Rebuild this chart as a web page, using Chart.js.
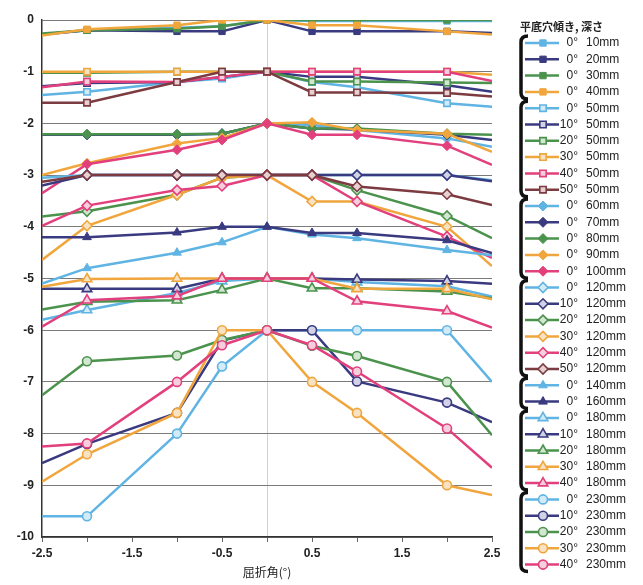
<!DOCTYPE html>
<html>
<head>
<meta charset="utf-8">
<script src="https://cdn.jsdelivr.net/npm/chart.js@4.4.1/dist/chart.umd.min.js"></script>
<style>
  html, body { margin: 0; padding: 0; background: #fff; }
  #wrap { width: 643px; height: 585px; position: relative; }
</style>
</head>
<body>
<div id="wrap"><canvas id="chart" width="643" height="585"></canvas></div>
<script>
// Refraction angle (x) and the measured values for every series
const X_VALUES = [-2.5, -2, -1, -0.5, 0, 0.5, 1, 2, 2.5];
const X_TICK_LABELS = [-2.5, -1.5, -0.5, 0.5, 1.5, 2.5];
const X_TITLE = '屈折角(°)';
const LEGEND_TITLE = '平底穴傾き, 深さ';

// legend text: tilt angle + depth
const ANGLES = [
    '0°', '0°', '0°', '0°',
    '0°', '10°', '20°', '30°', '40°', '50°',
    '0°', '0°', '0°', '0°', '0°',
    '0°', '10°', '20°', '30°', '40°', '50°',
    '0°', '0°',
    '0°', '10°', '20°', '30°', '40°',
    '0°', '10°', '20°', '30°', '40°'
];
const DEPTHS = [
    '10mm', '20mm', '30mm', '40mm',
    '50mm', '50mm', '50mm', '50mm', '50mm', '50mm',
    '60mm', '70mm', '80mm', '90mm', '100mm',
    '120mm', '120mm', '120mm', '120mm', '120mm', '120mm',
    '140mm', '160mm',
    '180mm', '180mm', '180mm', '180mm', '180mm',
    '230mm', '230mm', '230mm', '230mm', '230mm'
];
// how many series per bracket in the legend
const GROUP_SIZES = [4, 6, 5, 6, 2, 5, 5];

// 0°, 10-40mm (filled squares)
const d10 = [-0.28, -0.2, -0.15, -0.12, 0, -0.02, -0.02, -0.02, -0.02];
const d20 = [-0.28, -0.2, -0.22, -0.22, 0, -0.22, -0.22, -0.22, -0.25];
const d30 = [-0.26, -0.2, -0.17, -0.12, 0, 0, 0, 0, 0];
const d40 = [-0.3, -0.18, -0.1, 0, 0, -0.1, -0.1, -0.22, -0.28];
// 50mm (open squares)
const t0_50 = [-1.45, -1.39, -1.2, -1.13, -1.0, -1.2, -1.3, -1.61, -1.68];
const t10_50 = [-1.28, -1.22, -1.2, -1.1, -1.0, -1.1, -1.1, -1.26, -1.39];
const t20_50 = [-1.02, -1.02, -1.0, -1.0, -1.0, -1.19, -1.19, -1.21, -1.22];
const t30_50 = [-1.0, -1.0, -1.0, -1.0, -1.0, -1.0, -1.0, -1.0, -1.06];
const t40_50 = [-1.3, -1.19, -1.2, -1.1, -1.0, -1.0, -1.0, -1.0, -1.18];
const t50_50 = [-1.6, -1.6, -1.2, -1.0, -1.0, -1.4, -1.4, -1.41, -1.48];
// 0°, 60-100mm (filled diamonds)
const d60 = [-2.22, -2.22, -2.22, -2.2, -2.0, -2.03, -2.13, -2.29, -2.45];
const d70 = [-2.22, -2.22, -2.22, -2.2, -2.0, -2.1, -2.12, -2.22, -2.32];
const d80 = [-2.21, -2.21, -2.21, -2.2, -2.0, -2.1, -2.1, -2.2, -2.22];
const d90 = [-3.0, -2.77, -2.39, -2.28, -2.0, -1.98, -2.13, -2.2, -2.55];
const d100 = [-3.35, -2.79, -2.51, -2.32, -2.0, -2.22, -2.22, -2.43, -2.8];
// 120mm (open diamonds)
const t0_120 = [-3.05, -3.0, -3.0, -3.0, -3.0, -3.0, -3.0, -3.0, -3.1];
const t10_120 = [-3.2, -3.0, -3.0, -3.0, -3.0, -3.0, -3.0, -3.0, -3.12];
const t20_120 = [-3.8, -3.7, -3.38, -3.05, -3.0, -3.0, -3.29, -3.79, -4.22];
const t30_120 = [-4.64, -3.98, -3.38, -3.05, -3.0, -3.51, -3.51, -4.0, -4.76];
const t40_120 = [-3.98, -3.59, -3.29, -3.21, -3.0, -3.0, -3.51, -4.19, -4.6];
const t50_120 = [-3.13, -3.0, -3.0, -3.0, -3.0, -3.0, -3.22, -3.37, -3.58];
// 0°, 140/160mm (filled triangles)
const d140 = [-5.1, -4.8, -4.5, -4.3, -4.0, -4.15, -4.22, -4.45, -4.55];
const d160 = [-4.2, -4.2, -4.11, -4.0, -4.0, -4.12, -4.12, -4.26, -4.51];
// 180mm (open triangles)
const t0_180 = [-5.8, -5.61, -5.28, -5.05, -5.0, -5.0, -5.07, -5.15, -5.35];
const t10_180 = [-5.2, -5.2, -5.2, -5.0, -5.0, -5.0, -5.02, -5.05, -5.1];
const t20_180 = [-5.6, -5.45, -5.42, -5.22, -5.0, -5.19, -5.19, -5.25, -5.38];
const t30_180 = [-5.16, -5.01, -5.0, -5.0, -5.0, -5.0, -5.2, -5.2, -5.4];
const t40_180 = [-5.93, -5.42, -5.34, -5.0, -5.0, -5.0, -5.44, -5.63, -5.95];
// 230mm (open circles)
const t0_230 = [-9.6, -9.6, -8.0, -6.7, -6.0, -6.0, -6.0, -6.0, -7.0];
const t10_230 = [-8.57, -8.2, -7.6, -6.2, -6.0, -6.0, -6.99, -7.4, -7.78];
const t20_230 = [-7.26, -6.6, -6.49, -6.19, -6.0, -6.3, -6.5, -7.0, -8.03];
const t30_230 = [-8.93, -8.4, -7.6, -6.0, -6.0, -7.0, -7.6, -9.0, -9.19];
const t40_230 = [-8.25, -8.19, -7.0, -6.29, -6.0, -6.29, -6.8, -7.9, -8.66];

const SERIES_VALUES = [
    d10, d20, d30, d40,
    t0_50, t10_50, t20_50, t30_50, t40_50, t50_50,
    d60, d70, d80, d90, d100,
    t0_120, t10_120, t20_120, t30_120, t40_120, t50_120,
    d140, d160,
    t0_180, t10_180, t20_180, t30_180, t40_180,
    t0_230, t10_230, t20_230, t30_230, t40_230
];

// --- styles ---
const PALETTE = ['#5fb4e3', '#3a3a80', '#4b934d', '#f0a63c', '#e2407d', '#7c3b40'];
const PALE = ['#d3eaf7', '#d2d2e6', '#d3e6d2', '#f8e2c4', '#f6cfdc', '#e6d0d2'];
const GROUP_MARKERS = [
    { style: 'rect', filled: true, r: 4.5 },
    { style: 'rect', filled: false, r: 4.5 },
    { style: 'rectRot', filled: true, r: 5 },
    { style: 'rectRot', filled: false, r: 5 },
    { style: 'triangle', filled: true, r: 5 },
    { style: 'triangle', filled: false, r: 5.5 },
    { style: 'circle', filled: false, r: 4.5 }
];
const FONT = '"Liberation Sans", Arial, sans-serif';
const CJK = '"Noto Sans CJK JP", sans-serif';

function buildDatasets() {
    const out = [];
    let k = 0;
    GROUP_SIZES.forEach((n, g) => {
        const mk = GROUP_MARKERS[g];
        for (let j = 0; j < n; j++) {
            const color = PALETTE[j];
            const vals = SERIES_VALUES[k];
            out.push({
                label: ANGLES[k] + ' ' + DEPTHS[k],
                data: X_VALUES.map((x, i) => ({ x: x, y: vals[i] })),
                borderColor: color,
                backgroundColor: color,
                borderWidth: 2.5,
                tension: 0,
                pointStyle: mk.style,
                pointBackgroundColor: mk.filled ? color : PALE[j],
                pointBorderColor: color,
                pointBorderWidth: mk.filled ? 1 : 1.6,
                pointRadius: c => (Math.abs(X_VALUES[c.dataIndex]) === 2.5 ? 0 : mk.r),
                markerR: mk.r,
                order: -k
            });
            k++;
        }
    });
    return out;
}

// legend with black brackets on the right side
const LEG = { top: 43, step: 16.3, lineX0: 525, lineX1: 559, markX: 543, degX: 578, mmX: 586 };

const bracketLegend = {
    id: 'bracketLegend',
    afterDraw(chart) {
        const ctx = chart.ctx;
        ctx.save();
        ctx.fillStyle = '#222';
        ctx.textBaseline = 'middle';
        ctx.font = 'bold 11px ' + CJK;
        ctx.textAlign = 'left';
        ctx.fillText(LEGEND_TITLE, 520, 27);

        chart.data.datasets.forEach((ds, i) => {
            const y = LEG.top + i * LEG.step;
            ctx.strokeStyle = ds.borderColor;
            ctx.lineWidth = 2.5;
            ctx.beginPath();
            ctx.moveTo(LEG.lineX0, y);
            ctx.lineTo(LEG.lineX1, y);
            ctx.stroke();

            ctx.fillStyle = ds.pointBackgroundColor;
            ctx.strokeStyle = ds.pointBorderColor;
            ctx.lineWidth = ds.pointBorderWidth;
            Chart.helpers.drawPoint(ctx, {
                pointStyle: ds.pointStyle, rotation: 0,
                radius: ds.markerR, borderWidth: ds.pointBorderWidth
            }, LEG.markX, y);

            ctx.fillStyle = '#222';
            ctx.font = '12px ' + FONT;
            ctx.textAlign = 'right';
            ctx.fillText(ANGLES[i], LEG.degX, y);
            ctx.textAlign = 'left';
            ctx.fillText(DEPTHS[i], LEG.mmX, y);
        });

        // brackets
        ctx.strokeStyle = '#111';
        ctx.lineWidth = 3.5;
        let start = 0;
        GROUP_SIZES.forEach(n => {
            const top = LEG.top + start * LEG.step - 7;
            const bot = LEG.top + (start + n - 1) * LEG.step + 7;
            ctx.beginPath();
            ctx.moveTo(528, top);
            ctx.quadraticCurveTo(521, top, 521, top + 6);
            ctx.lineTo(521, bot - 6);
            ctx.quadraticCurveTo(521, bot, 528, bot);
            ctx.stroke();
            start += n;
        });
        ctx.restore();
    }
};

new Chart(document.getElementById('chart'), {
    type: 'line',
    data: { datasets: buildDatasets() },
    plugins: [bracketLegend],
    options: {
        responsive: false,
        animation: false,
        layout: { padding: { top: 20, right: 151, bottom: 0, left: 0 } },
        plugins: { legend: { display: false }, tooltip: { enabled: false } },
        scales: {
            x: {
                type: 'linear',
                min: -2.5,
                max: 2.5,
                afterFit: s => { s.height = 48; },
                afterBuildTicks: s => {
                    s.ticks = [-2.5, -2, -1.5, -1, -0.5, 0, 0.5, 1, 1.5, 2, 2.5].map(v => ({ value: v }));
                },
                ticks: {
                    autoSkip: false,
                    maxRotation: 0,
                    padding: 4,
                    color: '#222',
                    font: { family: FONT, size: 12, weight: 'bold' },
                    callback: v => (X_TICK_LABELS.includes(v) ? String(v) : '')
                },
                grid: {
                    color: c => (c.tick && c.tick.value === 0 ? '#d0d0d0' : 'rgba(0,0,0,0)'),
                    tickColor: '#666',
                    tickLength: 5
                },
                border: { color: '#333', width: 1.5 },
                title: {
                    display: true,
                    text: X_TITLE,
                    color: '#222',
                    font: { family: CJK, size: 12 },
                    padding: { top: 2, bottom: 5 }
                }
            },
            y: {
                min: -10,
                max: 0,
                afterFit: s => { s.width = 42; },
                ticks: {
                    stepSize: 1,
                    padding: 8,
                    color: '#222',
                    font: { family: FONT, size: 12, weight: 'bold' }
                },
                grid: { color: '#7a7a7a', lineWidth: 1, drawTicks: false },
                border: { color: '#333', width: 1.5 }
            }
        }
    }
});
</script>
</body>
</html>
